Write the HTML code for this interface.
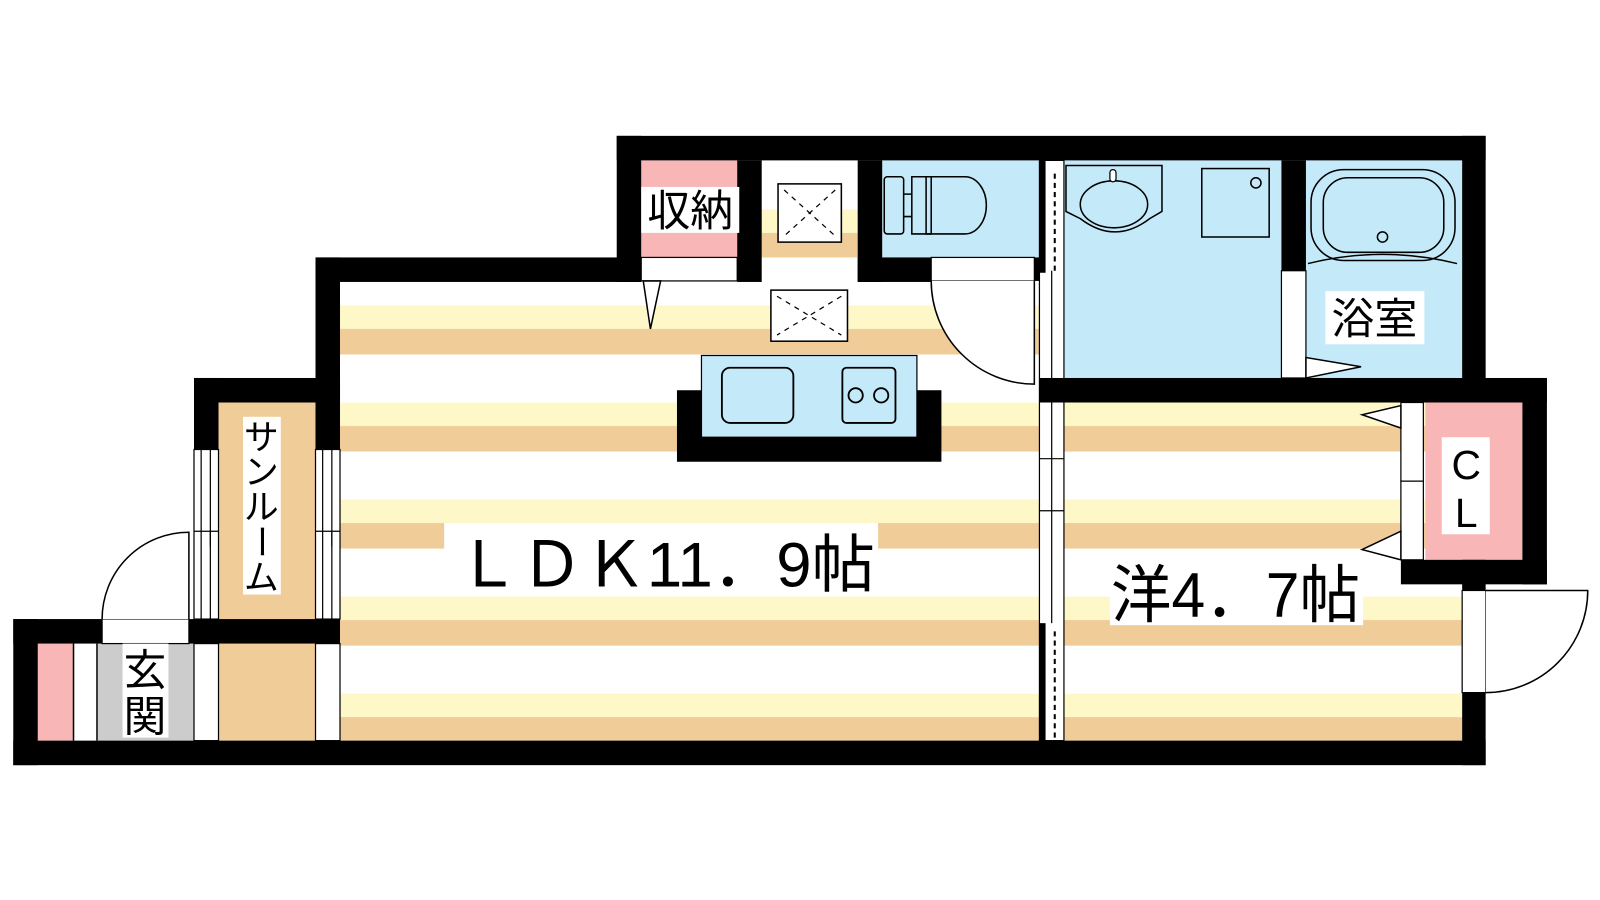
<!DOCTYPE html>
<html><head><meta charset="utf-8"><style>
html,body{margin:0;padding:0;background:#fff;}
svg{display:block;}
text{font-family:"Liberation Sans","Noto Sans CJK JP",sans-serif;fill:#000;}
</style></head><body>
<svg width="1600" height="900" viewBox="0 0 1567 881" preserveAspectRatio="none" xmlns="http://www.w3.org/2000/svg">
<defs>
<pattern id="fl" x="0" y="299" width="10" height="95" patternUnits="userSpaceOnUse">
<rect x="0" y="0" width="10" height="24" fill="#fef8c8"/>
<rect x="0" y="23" width="10" height="25" fill="#f0cc98"/>
</pattern>
</defs>
<!-- floors -->
<rect x="333" y="276" width="685" height="449" fill="url(#fl)"/>
<rect x="1042" y="394" width="390" height="331" fill="url(#fl)"/>
<rect x="1372" y="548" width="60" height="30" fill="#fff"/>
<!-- sunroom -->
<rect x="214" y="394" width="95" height="212" fill="#f0cc98"/>
<rect x="214" y="630" width="95" height="95" fill="#f0cc98"/>
<!-- genkan -->
<rect x="37" y="630" width="35" height="95" fill="#f9b6b6"/>
<rect x="96" y="630" width="94" height="95" fill="#ccc"/>
<line x1="72" y1="630" x2="72" y2="725" stroke="#000" stroke-width="1.5"/>
<line x1="95" y1="630" x2="95" y2="725" stroke="#000" stroke-width="1.5"/>
<!-- windows sunroom -->
<g fill="#fff" stroke="#000" stroke-width="1.2">
<rect x="190" y="440" width="24" height="166"/>
<rect x="309" y="440" width="24" height="166"/>
<rect x="190" y="630" width="24" height="95"/>
<rect x="309" y="630" width="24" height="95"/>
</g>
<g stroke="#000" stroke-width="1.2">
<line x1="197" y1="440" x2="197" y2="606"/><line x1="206" y1="520" x2="206" y2="535"/>
<line x1="316" y1="440" x2="316" y2="606"/><line x1="325" y1="520" x2="325" y2="535"/>
<line x1="190" y1="520" x2="214" y2="520"/><line x1="309" y1="520" x2="333" y2="520"/>
<line x1="206" y1="440" x2="206" y2="606"/><line x1="325" y1="440" x2="325" y2="606"/>
</g>
<!-- storage -->
<rect x="628" y="157" width="94" height="95" fill="#f9b6b6"/>
<rect x="628" y="252" width="94" height="23" fill="#fff" stroke="#000" stroke-width="1.2"/>
<polygon points="630,275 647,275 637,322" fill="#fff" stroke="#000" stroke-width="1.5"/>
<!-- fridge nook -->
<rect x="746" y="205" width="94" height="23" fill="#fef8c8"/>
<rect x="746" y="228" width="94" height="24" fill="#f0cc98"/>
<rect x="762" y="180" width="62" height="57" fill="#fff" stroke="#000" stroke-width="1.5"/>
<path d="M768 186L818 231M818 186L768 231" stroke="#000" stroke-dasharray="5,5" stroke-width="1.2"/>
<rect x="755" y="284" width="75" height="50" fill="#fff" stroke="#000" stroke-width="1.5"/>
<path d="M761 290L824 328M824 290L761 328" stroke="#000" stroke-dasharray="5,5" stroke-width="1.2"/>
<!-- toilet -->
<rect x="864" y="157" width="154" height="95" fill="#c4e9f9"/>
<rect x="866" y="173" width="19" height="56" rx="3" fill="none" stroke="#000" stroke-width="1.5"/>
<path d="M885 190H893V212H885M893 173H912V229H893Z" fill="none" stroke="#000" stroke-width="1.5"/>
<path d="M907 173H945A21 28 0 0 1 945 229H907Z" fill="none" stroke="#000" stroke-width="1.5"/>
<rect x="912" y="252" width="101" height="23" fill="#fff" stroke="#000" stroke-width="1.2"/>
<rect x="1013" y="252" width="5" height="23" fill="#000"/>
<path d="M912 275A101 101 0 0 0 1013 376V275" fill="#fff" stroke="#000" stroke-width="1.5"/>
<!-- kitchen -->
<rect x="663" y="382" width="259" height="70" fill="#000"/>
<rect x="687" y="348" width="211" height="80" fill="#c4e9f9" stroke="#000" stroke-width="1.2"/>
<rect x="707" y="360" width="70" height="54" rx="8" fill="none" stroke="#000" stroke-width="1.8"/>
<rect x="825" y="360" width="52" height="54" rx="4" fill="none" stroke="#000" stroke-width="1.8"/>
<circle cx="838" cy="387" r="7" fill="none" stroke="#000" stroke-width="1.8"/>
<circle cx="863" cy="387" r="7" fill="none" stroke="#000" stroke-width="1.8"/>
<!-- wash & bath -->
<rect x="1042" y="157" width="213" height="213" fill="#c4e9f9"/>
<rect x="1279" y="157" width="153" height="213" fill="#c4e9f9"/>
<path d="M1044 162H1138V207L1126 214Q1092 240 1058 214L1044 207Z" fill="none" stroke="#000" stroke-width="1.5"/>
<ellipse cx="1091" cy="200" rx="33" ry="23" fill="none" stroke="#000" stroke-width="1.5"/>
<rect x="1087" y="166" width="6" height="12" rx="3" fill="#fff" stroke="#000" stroke-width="1.2"/>
<rect x="1177" y="165" width="66" height="67" fill="none" stroke="#000" stroke-width="1.5"/>
<circle cx="1230" cy="179" r="5" fill="none" stroke="#000" stroke-width="1.5"/>
<rect x="1284" y="166" width="141" height="89" rx="32" fill="none" stroke="#000" stroke-width="1.5"/>
<rect x="1296" y="174" width="118" height="73" rx="24" fill="none" stroke="#000" stroke-width="1.5"/>
<circle cx="1354" cy="232" r="5" fill="none" stroke="#000" stroke-width="1.5"/>
<path d="M1281 258Q1354 240 1427 258" fill="none" stroke="#000" stroke-width="1.5"/>
<rect x="1255" y="265" width="24" height="105" fill="#fff" stroke="#000" stroke-width="1.2"/>
<polygon points="1279,350 1279,370 1333,359" fill="#fff" stroke="#000" stroke-width="1.5"/>
<!-- partition -->
<rect x="1018" y="157" width="24" height="568" fill="#fff" stroke="#000" stroke-width="1.2"/>
<rect x="1018" y="157" width="6" height="110" fill="#000"/>
<line x1="1033" y1="170" x2="1033" y2="265" stroke="#000" stroke-width="2" stroke-dasharray="5,4"/>
<line x1="1030" y1="265" x2="1030" y2="370" stroke="#000" stroke-width="1.2"/>
<line x1="1030" y1="394" x2="1030" y2="610" stroke="#000" stroke-width="1.2"/>
<line x1="1018" y1="500" x2="1042" y2="500" stroke="#000" stroke-width="1.2"/>
<line x1="1018" y1="449" x2="1042" y2="449" stroke="#000" stroke-width="1.2"/>
<rect x="1018" y="610" width="6" height="115" fill="#000"/>
<line x1="1033" y1="618" x2="1033" y2="722" stroke="#000" stroke-width="2" stroke-dasharray="5,4"/>
<!-- CL -->
<rect x="1396" y="394" width="95" height="154" fill="#f9b6b6"/>
<rect x="1372" y="394" width="22" height="77" fill="#fff" stroke="#000" stroke-width="1.2"/>
<rect x="1372" y="471" width="22" height="77" fill="#fff" stroke="#000" stroke-width="1.2"/>
<polygon points="1372,397 1334,406 1372,419" fill="#fff" stroke="#000" stroke-width="1.5"/>
<polygon points="1372,520 1334,538 1372,548" fill="#fff" stroke="#000" stroke-width="1.5"/>
<!-- yo door -->
<rect x="1432" y="578" width="23" height="100" fill="#fff" stroke="#000" stroke-width="1.2"/>
<path d="M1455 578H1555A100 100 0 0 1 1455 678" fill="#fff" stroke="#000" stroke-width="1.5"/>
<!-- genkan door -->
<rect x="100" y="606" width="85" height="24" fill="#fff" stroke="#000" stroke-width="1.2"/>
<path d="M100 606A85 85 0 0 1 185 521V606" fill="#fff" stroke="#000" stroke-width="1.5"/>
<!-- walls -->
<g fill="#000">
<rect x="604" y="133" width="851" height="24"/>
<rect x="604" y="133" width="24" height="143"/>
<rect x="309" y="252" width="319" height="24"/>
<rect x="309" y="252" width="24" height="188"/>
<rect x="190" y="370" width="143" height="24"/>
<rect x="190" y="370" width="24" height="70"/>
<rect x="185" y="606" width="148" height="24"/>
<rect x="13" y="606" width="87" height="24"/>
<rect x="13" y="606" width="24" height="143"/>
<rect x="13" y="725" width="1442" height="24"/>
<rect x="722" y="157" width="24" height="119"/>
<rect x="840" y="157" width="24" height="119"/>
<rect x="840" y="252" width="72" height="24"/>
<rect x="1255" y="157" width="24" height="108"/>
<rect x="1432" y="133" width="23" height="261"/>
<rect x="1018" y="370" width="497" height="24"/>
<rect x="1491" y="370" width="24" height="202"/>
<rect x="1372" y="548" width="143" height="24"/>
<rect x="1432" y="548" width="23" height="30"/>
<rect x="1432" y="678" width="23" height="71"/>
</g>
<!-- labels -->
<rect x="628" y="183" width="96" height="45" fill="#fff"/>
<text x="676" y="221" font-size="42" text-anchor="middle">収納</text>
<rect x="238" y="408" width="37" height="174" fill="#fff"/>
<text x="256" y="440" font-size="34" text-anchor="middle">サ</text>
<text x="256" y="474" font-size="34" text-anchor="middle">ン</text>
<text x="256" y="508" font-size="34" text-anchor="middle">ル</text>
<text x="256" y="542" font-size="34" text-anchor="middle" transform="rotate(90 256 530)">ー</text>
<text x="256" y="577" font-size="34" text-anchor="middle">ム</text>
<rect x="120" y="630" width="45" height="92" fill="#fff"/>
<text x="142" y="671" font-size="42" text-anchor="middle">玄</text>
<text x="142" y="716" font-size="42" text-anchor="middle">関</text>
<rect x="1298" y="285" width="97" height="52" fill="#fff"/>
<text x="1346" y="327" font-size="42" text-anchor="middle">浴室</text>
<rect x="1412" y="428" width="47" height="95" fill="#fff"/>
<text x="1436" y="469" font-size="40" text-anchor="middle">C</text>
<text x="1436" y="516" font-size="40" text-anchor="middle">L</text>
<rect x="435" y="512" width="425" height="70" fill="#fff"/>
<text x="447" y="574" font-size="62" textLength="410" lengthAdjust="spacingAndGlyphs">ＬＤＫ11．9帖</text>
<rect x="1087" y="540" width="248" height="72" fill="#fff"/>
<text x="1088" y="604" font-size="62" textLength="244" lengthAdjust="spacingAndGlyphs">洋4．7帖</text>
</svg>
</body></html>
